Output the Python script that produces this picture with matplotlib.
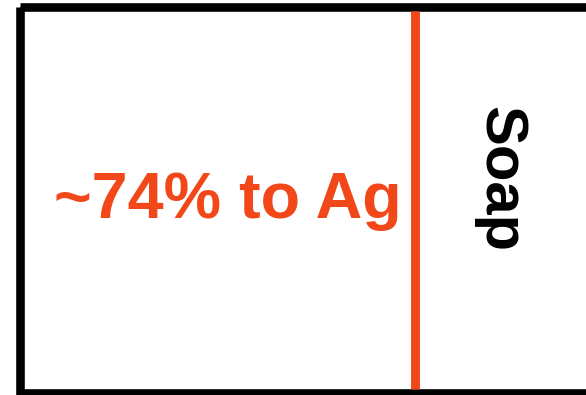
import matplotlib
matplotlib.use('Agg')
import matplotlib.pyplot as plt
from matplotlib.patches import Rectangle

# datos
share_label = '~74% to Ag'
other_label = 'Soap'
share_color = '#F24719'

W, H = 586, 395
fig = plt.figure(figsize=(W / 100, H / 100), dpi=100)
ax = fig.add_axes([0, 0, 1, 1])
ax.set_xlim(0, W)
ax.set_ylim(H, 0)
ax.axis('off')

# caja
ax.add_patch(Rectangle((19.5, 7), 700, 386, fill=False,
                       edgecolor='black', linewidth=6.2))
# separador
ax.plot([414.5, 414.5], [11, 389], color=share_color, linewidth=6.4,
        solid_capstyle='butt')

ax.text(228, 218, share_label, color=share_color, fontsize=46.5,
        fontweight='bold', family='Liberation Sans', ha='center', va='baseline')
ax.text(500, 179, other_label, color='black', fontsize=43, rotation=-90,
        fontweight='bold', family='Liberation Sans', ha='center', va='center',
        rotation_mode='anchor')

fig.savefig('out.png', dpi=100)
